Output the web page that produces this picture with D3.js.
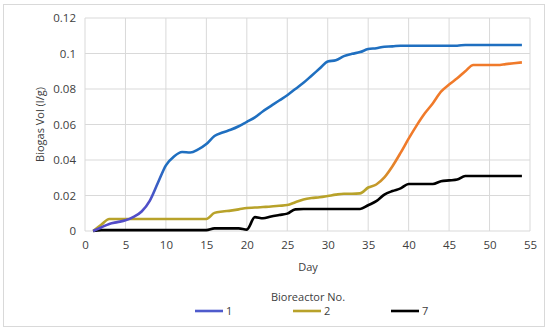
<!DOCTYPE html>
<html><head><meta charset="utf-8">
<script src="https://cdn.jsdelivr.net/npm/d3@7"></script>
<style>body{margin:0;background:#fff}svg{display:block}text{font-family:"Open Sans",sans-serif;fill:#404040}</style>
</head><body><svg id="c" width="550" height="333"></svg>
<script>
const days = d3.range(1, 55);
const s1 = [0,0.002,0.004,0.005,0.006,0.008,0.011,0.017,0.027,0.037,0.042,0.0445,0.0442,0.046,0.049,0.0535,0.0555,0.057,0.059,0.0615,0.064,0.0675,0.0705,0.0735,0.0765,0.080,0.0835,0.0875,0.0915,0.0955,0.0962,0.0985,0.0998,0.1008,0.1025,0.103,0.1038,0.104,0.1044,0.1044,0.1044,0.1044,0.1044,0.1044,0.1044,0.1044,0.1048,0.1048,0.1048,0.1048,0.1048,0.1048,0.1048,0.1048];
const s2 = [0,0.0035,0.0068,0.0068,0.0068,0.0068,0.0068,0.0068,0.0068,0.0068,0.0068,0.0068,0.0068,0.0068,0.0068,0.0102,0.011,0.0115,0.0122,0.013,0.0132,0.0135,0.0138,0.0142,0.0146,0.0162,0.0178,0.0186,0.019,0.0197,0.0205,0.021,0.021,0.0212,0.0245,0.0262,0.0302,0.0365,0.044,0.052,0.0595,0.0663,0.072,0.0785,0.0825,0.086,0.090,0.0935,0.0935,0.0935,0.0935,0.094,0.0945,0.095];
const s7 = [0,0.0005,0.0005,0.0005,0.0005,0.0005,0.0005,0.0005,0.0005,0.0005,0.0005,0.0005,0.0005,0.0005,0.0005,0.0015,0.0015,0.0015,0.0015,0.0008,0.0078,0.0072,0.0082,0.009,0.0098,0.0122,0.0124,0.0124,0.0124,0.0124,0.0124,0.0124,0.0124,0.0124,0.0145,0.0168,0.0205,0.0225,0.024,0.0265,0.0265,0.0265,0.0265,0.028,0.0285,0.029,0.031,0.031,0.031,0.031,0.031,0.031,0.031,0.031];
const xTicks = [0,5,10,15,20,25,30,35,40,45,50,55];
const yTicks = [0,0.02,0.04,0.06,0.08,0.1,0.12];
const seriesNames = ["1","2","7"];

const svg = d3.select("#c");
svg.append("rect").attr("x",3.5).attr("y",4.5).attr("width",541).attr("height",322).attr("fill","#fff").attr("stroke","#d9d9d9");

const x = d3.scaleLinear().domain([0,55]).range([85,530]);
const y = d3.scaleLinear().domain([0,0.12]).range([231,18]);

const g = svg.append("g");
g.selectAll(".gx").data(xTicks).join("line").attr("x1",d=>x(d)).attr("x2",d=>x(d)).attr("y1",y(0)).attr("y2",y(0.12)).attr("stroke","#d9d9d9");
g.selectAll(".gy").data(yTicks).join("line").attr("x1",x(0)).attr("x2",x(55)).attr("y1",d=>y(d)).attr("y2",d=>y(d)).attr("stroke","#d9d9d9");

const yAxis = d3.axisLeft(y).tickValues(yTicks).tickSize(0).tickPadding(9).tickFormat(d=>d===0?"0":String(+d.toFixed(2)));
const ya = svg.append("g").attr("transform",`translate(${x(0)},0)`).call(yAxis);
ya.select(".domain").remove();
ya.selectAll("text").attr("font-size",11.5).attr("font-family","Open Sans").attr("fill","#404040");
const xAxis = d3.axisBottom(x).tickValues(xTicks).tickSize(0).tickPadding(10).tickFormat(d3.format("d"));
const xa = svg.append("g").attr("transform",`translate(0,${y(0)})`).call(xAxis);
xa.select(".domain").remove();
xa.selectAll("text").attr("font-size",11.5).attr("font-family","Open Sans").attr("fill","#404040");

svg.append("text").attr("x",308).attr("y",271).attr("text-anchor","middle").attr("font-size",11).text("Day");
svg.append("text").attr("transform",`translate(44,${(y(0)+y(0.12))/2}) rotate(-90)`).attr("text-anchor","middle").attr("font-size",11).text("Biogas Vol (l/g)");

const defs = svg.append("defs");
function grad(id, stops){
  const gr = defs.append("linearGradient").attr("id",id).attr("gradientUnits","userSpaceOnUse")
    .attr("x1",x(0)).attr("x2",x(55)).attr("y1",0).attr("y2",0);
  stops.forEach(s=>gr.append("stop").attr("offset",x(s[0])/1).attr("offset",(x(s[0])-x(0))/(x(55)-x(0))).attr("stop-color",s[1]));
}
grad("g1",[[0,"#5548c8"],[8,"#5050c8"],[10,"#1f6fc0"],[55,"#1f6fc0"]]);
grad("g2",[[0,"#b8a22a"],[35,"#b8a22a"],[39,"#f07a2a"],[55,"#f07a2a"]]);

const line = d3.line().x((d,i)=>x(days[i])).y(d=>y(d)).curve(d3.curveMonotoneX);
const data = [[s7,"#000"],[s2,"url(#g2)"],[s1,"url(#g1)"]];
data.forEach(([s,c])=>svg.append("path").attr("d",line(s)).attr("fill","none").attr("stroke",c).attr("stroke-width",2.6).attr("stroke-linejoin","round"));

svg.append("text").attr("x",308).attr("y",301).attr("text-anchor","middle").attr("font-size",11).text("Bioreactor No.");
const legCol = ["#4f5bcc","#b8a22a","#000"];
const lx = [195,293,391];
seriesNames.forEach((n,i)=>{
  svg.append("line").attr("x1",lx[i]).attr("x2",lx[i]+28).attr("y1",311).attr("y2",311).attr("stroke",legCol[i]).attr("stroke-width",2.6);
  svg.append("text").attr("x",lx[i]+31).attr("y",315).attr("font-size",11).text(n);
});
</script></body></html>
